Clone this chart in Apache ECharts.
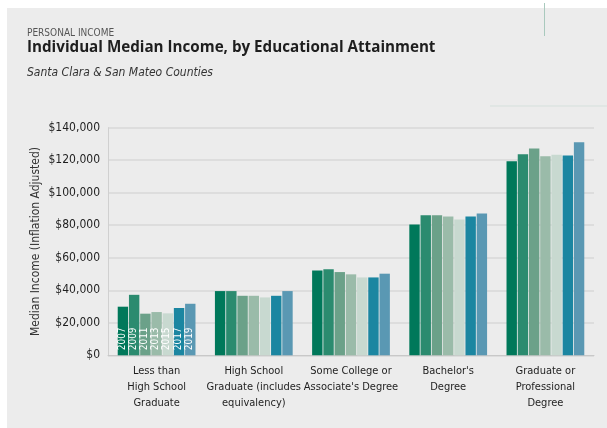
<!DOCTYPE html>
<html>
<head>
<meta charset="utf-8">
<script src="https://cdn.jsdelivr.net/npm/echarts@6/dist/echarts.min.js"></script>
<style>
  html, body { margin: 0; padding: 0; background: #fff; }
  #chart { width: 607px; height: 428px; }
</style>
</head>
<body>
<div id="chart"></div>
<script>
const categories = [
  'Less than\nHigh School\nGraduate',
  'High School\nGraduate (includes\nequivalency)',
  'Some College or\nAssociate\'s Degree',
  'Bachelor\'s\nDegree',
  'Graduate or\nProfessional\nDegree'
];
const years = ['2007', '2009', '2011', '2013', '2015', '2017', '2019'];
const colors = ['#00785a', '#2b8b6f', '#6ba189', '#9abba9', '#c8d9d0', '#1b86a1', '#5a98b3'];

const v2007 = [29900, 39500, 52200, 80500, 119400];
const v2009 = [37200, 39500, 53000, 86200, 123700];
const v2011 = [25600, 36600, 51200, 86200, 127200];
const v2013 = [26600, 36600, 49800, 85400, 122500];
const v2015 = [25800, 35600, 47900, 83600, 123300];
const v2017 = [29100, 36600, 47900, 85400, 122900];
const v2019 = [31700, 39500, 50200, 87300, 131100];
const values = [v2007, v2009, v2011, v2013, v2015, v2017, v2019];

const yTicks = [0, 20000, 40000, 60000, 80000, 100000, 120000, 140000];

const font = '"Liberation Sans Narrow", "DejaVu Sans Condensed", sans-serif';

const chart = echarts.init(document.getElementById('chart'));

let series = [];
for (let i = 0; i < years.length; ++i) {
    series.push({
        name: years[i],
        type: 'bar',
        data: values[i],
        barGap: '8%',
        barCategoryGap: '20%',
        itemStyle: { color: colors[i] },
        label: {
            show: true,
            position: 'insideBottom',
            rotate: 90,
            align: 'left',
            verticalAlign: 'middle',
            offset: [0, -1],
            color: '#ffffff',
            fontFamily: font,
            fontSize: 10,
            formatter: function (p) {
                return p.dataIndex === 0 ? p.seriesName : '';
            }
        }
    });
}

const options = {
    backgroundColor: '#ffffff',
    animation: false,
    graphic: [
        { type: 'rect', shape: { x: 7, y: 8, width: 600, height: 420 }, style: { fill: '#ececec' }, z: -10 },
        { type: 'line', shape: { x1: 544.5, y1: 3, x2: 544.5, y2: 36 }, style: { stroke: '#a9c9bd', lineWidth: 1 } },
        { type: 'line', shape: { x1: 490, y1: 106, x2: 607, y2: 106 }, style: { stroke: '#d5e0dc', lineWidth: 1 } },
        { type: 'text', left: 27, top: 28, style: { text: 'PERSONAL INCOME', fill: '#555', font: '10px ' + font } },
        { type: 'text', left: 27, top: 40, style: { text: 'Individual Median Income, by Educational Attainment', fill: '#1e1e1e', font: 'bold 15.2px "Open Sans", sans-serif' } },
        { type: 'text', left: 27, top: 67, style: { text: 'Santa Clara & San Mateo Counties', fill: '#333', font: 'italic 12px ' + font } }
    ],
    grid: { left: 108, right: 13, top: 127.7, bottom: 72.7 },
    xAxis: {
        type: 'category',
        data: categories,
        axisTick: { show: false },
        axisLine: { lineStyle: { color: '#c8c8c8', width: 1 } },
        axisLabel: {
            interval: 0,
            color: '#1e1e1e',
            fontFamily: font,
            fontSize: 11,
            lineHeight: 16,
            margin: 8
        }
    },
    yAxis: {
        type: 'value',
        min: 0,
        max: 140000,
        interval: 20000,
        name: 'Median Income (Inflation Adjusted)',
        nameLocation: 'middle',
        nameGap: 66,
        nameMoveOverlap: false,
        nameTextStyle: { color: '#333', fontFamily: font, fontSize: 12 },
        axisLine: { show: true, lineStyle: { color: '#d0d0d0' } },
        axisTick: { show: false },
        splitLine: { lineStyle: { color: '#d8d8d8', width: 1.5 } },
        axisLabel: {
            color: '#1e1e1e',
            fontFamily: font,
            fontSize: 12,
            margin: 8,
            formatter: function (v) {
                return yTicks.indexOf(v) >= 0 ? '$' + v.toLocaleString('en-US') : '';
            }
        }
    },
    series: series
};
chart.setOption(options, true);
</script>
</body>
</html>
